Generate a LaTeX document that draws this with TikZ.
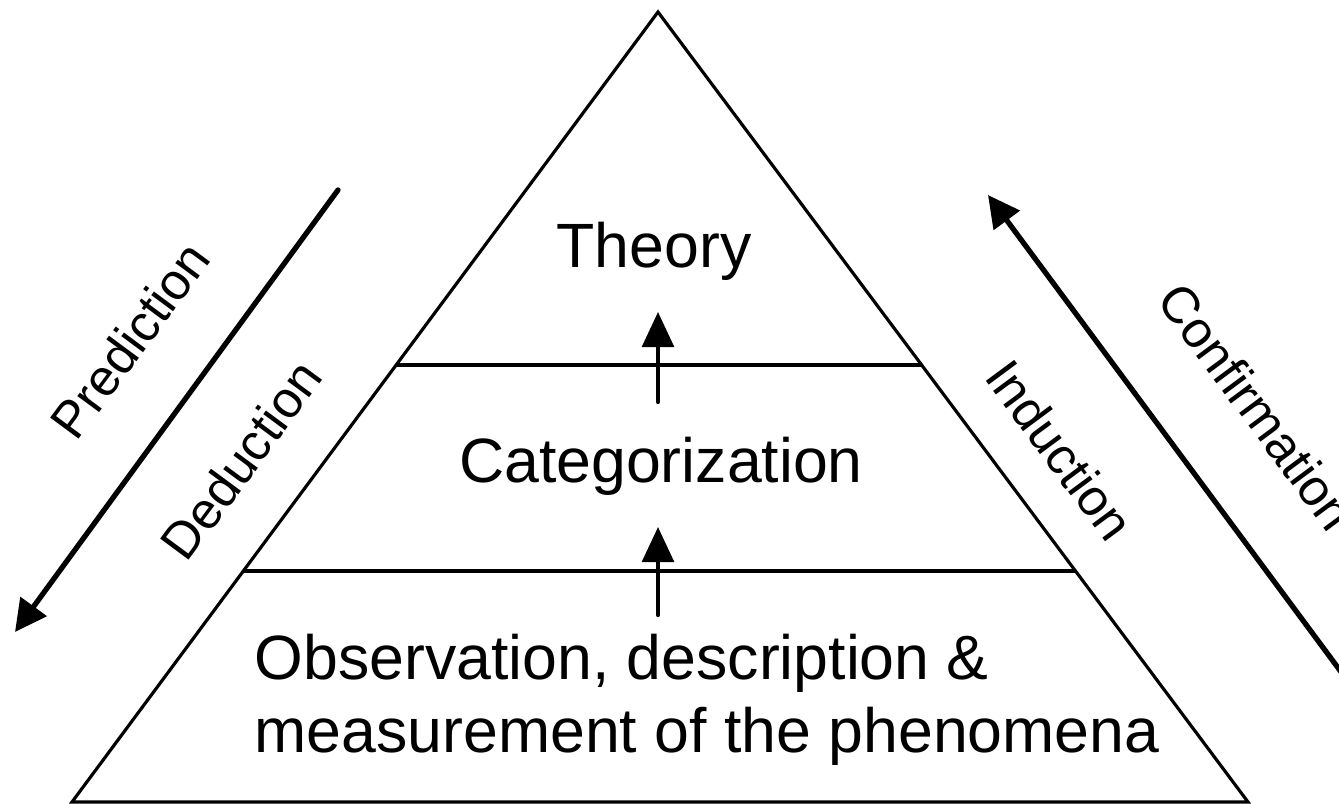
\documentclass[tikz,border=0pt]{standalone}
\usepackage{fontspec}
\setmainfont{Liberation Sans}
\usetikzlibrary{positioning, calc, arrows.meta}

\begin{document}
\begin{tikzpicture}[x=0.01cm, y=-0.01cm,
  every node/.style={inner sep=0pt, font=\fontsize{17.8}{20.8}\selectfont},
  side/.style={font=\fontsize{14.6}{17}\selectfont},
  edge/.style={line width=0.9pt},
  uparrow/.style={line width=1.2pt, line cap=round, -{Triangle[length=10pt, width=9pt]}},
  bigarrow/.style={line width=1.5pt, line cap=round, -{Triangle[length=9pt, width=9pt]}}]
  \useasboundingbox (0,0) rectangle (1339,804);
  \coordinate (apex) at (658,12);
  \coordinate (bl) at (72,802);
  \coordinate (br) at (1248,802);
  \coordinate (l1) at ($(apex)!0.4468!(bl)$);
  \coordinate (r1) at ($(apex)!0.4468!(br)$);
  \coordinate (l2) at ($(apex)!0.7076!(bl)$);
  \coordinate (r2) at ($(apex)!0.7076!(br)$);
  \draw[edge, line join=miter] (apex) -- (bl) -- (br) -- cycle;
  \draw[edge] (l1) -- (r1);
  \draw[edge] (l2) -- (r2);
  \node (theory) at (654,251) {Theory};
  \node (categ) at (661,466) {Categorization};
  \node[anchor=base west, align=left] (obs) at (254,753) {Observation, description \&\\measurement of the phenomena};
  \coordinate (u1s) at (658,402);
  \coordinate (u1e) at (658,312);
  \coordinate (u2s) at (658,615);
  \coordinate (u2e) at (658,527);
  \draw[uparrow] (u1s) -- (u1e);
  \draw[uparrow] (u2s) -- (u2e);
  \coordinate (ps) at (338,190);
  \coordinate (pe) at (15,632);
  \coordinate (cs) at (1350,684);
  \coordinate (ce) at (988,195);
  \draw[bigarrow] (ps) -- (pe);
  \draw[bigarrow] (cs) -- (ce);
  \node[side, rotate=53.5] (pred) at (130,340) {Prediction};
  \node[side, rotate=53.5] (deduc) at (241,460) {Deduction};
  \node[side, rotate=-53.5] (induc) at (1060,450) {Induction};
  \node[side, rotate=-53.5] (confirm) at (1257,407) {Confirmation};
\end{tikzpicture}
\end{document}
